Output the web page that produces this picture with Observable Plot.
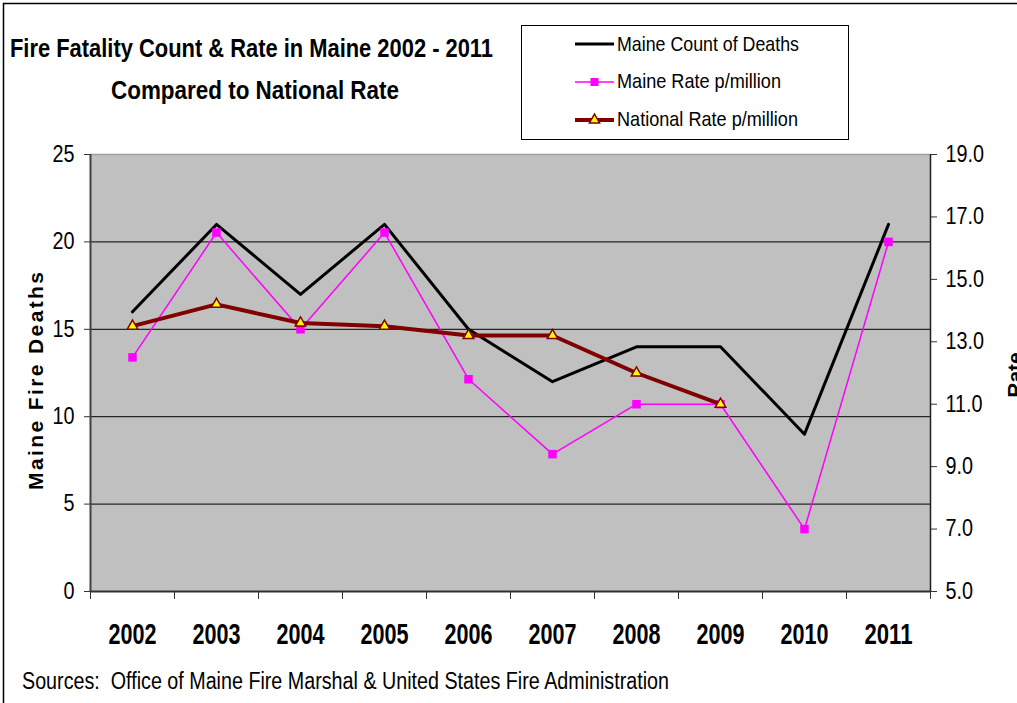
<!DOCTYPE html>
<html>
<head>
<meta charset="utf-8">
<script src="https://cdn.jsdelivr.net/npm/d3@7"></script>
<script src="https://cdn.jsdelivr.net/npm/@observablehq/plot@0.6"></script>
<style>
  html, body { margin: 0; padding: 0; background: #fff; }
  #chart { width: 1017px; height: 703px; overflow: hidden; }
</style>
</head>
<body>
<div id="chart"></div>
<script>
// ---- data ----
const years = [2002, 2003, 2004, 2005, 2006, 2007, 2008, 2009, 2010, 2011];
const deaths = [16, 21, 17, 21, 15, 12, 14, 14, 9, 21];
const maineRate = [12.5, 16.5, 13.4, 16.5, 11.8, 9.4, 11.0, 11.0, 7.0, 16.2];
const nationalRate = [13.5, 14.2, 13.6, 13.5, 13.2, 13.2, 12.0, 11.0, null, null];
const countTicks = [0, 5, 10, 15, 20, 25];
const gridTicks = [5, 10, 15, 20];
const rateTicks = [5, 7, 9, 11, 13, 15, 17, 19];
const seriesNames = ["Maine Count of Deaths", "Maine Rate p/million", "National Rate p/million"];
const titleLines = ["Fire Fatality Count & Rate in Maine 2002 - 2011", "Compared to National Rate"];
const leftTitle = "Maine Fire Deaths";
const rightTitle = "Rate";
const caption = "Sources:  Office of Maine Fire Marshal & United States Fire Administration";

// rate axis (5..19) mapped onto the count axis (0..25)
const rateToY = r => r == null ? null : (r - 5) * 25 / 14;
const yToRate = y => y * 14 / 25 + 5;

const rows = years.map((yr, i) => ({
  year: yr,
  deaths: deaths[i],
  maine: rateToY(maineRate[i]),
  national: rateToY(nationalRate[i])
}));
const boundaries = d3.range(years.length + 1).map(i => years[0] - 0.5 + i);
const FONT = '"Liberation Sans Narrow", "Arial Narrow", "Liberation Sans", Arial, sans-serif';

const plot = Plot.plot({
  width: 1017,
  height: 703,
  marginLeft: 90,
  marginRight: 87,
  marginTop: 154,
  marginBottom: 112,
  x: { domain: [years[0] - 0.5, years[years.length - 1] + 0.5], axis: null },
  y: { domain: [0, 25], axis: null },
  style: { fontFamily: FONT, color: "#000", background: "transparent" },
  marks: [
    Plot.frame({ fill: "#C0C0C0", stroke: null }),
    Plot.ruleY([25], { stroke: "#a0a0a0", strokeWidth: 1.5 }),
    Plot.ruleY(gridTicks, { stroke: "#000", strokeWidth: 1 }),
    // left axis
    Plot.axisY({ ticks: countTicks, tickSize: 6, tickPadding: 10, fontSize: 23, label: null, stroke: "#333" }),
    Plot.ruleX([years[0] - 0.5], { stroke: "#404040", strokeWidth: 2 }),
    // right axis
    Plot.axisY({ anchor: "right", ticks: rateTicks.map(rateToY), tickFormat: d => yToRate(d).toFixed(1), tickSize: 6, tickPadding: 9, fontSize: 23, label: null, stroke: "#333" }),
    Plot.ruleX([years[years.length - 1] + 0.5], { stroke: "#202020", strokeWidth: 1.5 }),
    // bottom axis
    Plot.ruleY([0], { stroke: "#303030", strokeWidth: 2 }),
    Plot.axisX({ ticks: boundaries, tickFormat: () => "", tickSize: 8, label: null, stroke: "#333" }),
    Plot.axisX({ ticks: years, tickFormat: d => String(d), tickSize: 0, tickPadding: 32, fontSize: 29, fontWeight: "bold", label: null }),
    // series
    Plot.line(rows, { x: "year", y: "deaths", stroke: "#000", strokeWidth: 3 }),
    Plot.line(rows, { x: "year", y: "maine", stroke: "#FF00FF", strokeWidth: 1.5 }),
    Plot.dot(rows, { x: "year", y: "maine", symbol: "square", r: 4.8, fill: "#FF00FF", stroke: "none" }),
    Plot.line(rows, { x: "year", y: "national", stroke: "#800000", strokeWidth: 4 }),
    Plot.dot(rows, { x: "year", y: "national", symbol: "triangle", r: 3.9, fill: "#FFFF00", stroke: "#800000", strokeWidth: 1.5 })
  ]
});
document.getElementById("chart").appendChild(plot);

const svg = d3.select(plot);
// condense axis tick labels to the narrow look of the reference
svg.selectAll('g[aria-label="x-axis tick label"] text').each(function () {
  if (this.textContent) d3.select(this).attr("textLength", 48).attr("lengthAdjust", "spacingAndGlyphs");
});
svg.selectAll('g[aria-label="y-axis tick label"] text').each(function () {
  const w = this.getComputedTextLength();
  if (w > 0) d3.select(this).attr("textLength", w * 0.86).attr("lengthAdjust", "spacingAndGlyphs");
});

// ---- annotations: title, axis titles, legend, caption, border ----
const g = svg.append("g").attr("text-anchor", "start");

g.append("path").attr("d", "M3.5,703 V3.5 H1017").attr("fill", "none").attr("stroke", "#000").attr("stroke-width", 1.5);

function txt(s, x, y, size, weight, len, adjust) {
  const t = g.append("text").attr("x", x).attr("y", y).attr("font-size", size)
    .attr("text-anchor", "start")
    .attr("font-weight", weight).attr("font-family", FONT).attr("fill", "#000").text(s);
  if (len) t.attr("textLength", len).attr("lengthAdjust", adjust || "spacingAndGlyphs");
  return t;
}
txt(titleLines[0], 10, 57, 25, "bold", 483);
txt(titleLines[1], 111, 99, 25, "bold", 288);
txt(caption, 22, 689, 23, "normal", 647);

g.append("text").attr("transform", "translate(43,381) rotate(-90)").attr("text-anchor", "middle")
  .attr("font-size", 21).attr("font-weight", "bold").attr("font-family", FONT)
  .attr("textLength", 218).attr("lengthAdjust", "spacing").text(leftTitle);
g.append("text").attr("transform", "translate(1022,375) rotate(-90)").attr("text-anchor", "middle")
  .attr("font-size", 21).attr("font-weight", "bold").attr("font-family", FONT).text(rightTitle);

// legend
g.append("rect").attr("x", 521.5).attr("y", 25.5).attr("width", 327).attr("height", 114)
  .attr("fill", "#fff").attr("stroke", "#000").attr("stroke-width", 1);
const legY = [44, 82, 120];
const legBase = [50.5, 88, 125.5];
const legLen = [182, 164, 181];
g.append("line").attr("x1", 575).attr("x2", 614).attr("y1", legY[0]).attr("y2", legY[0]).attr("stroke", "#000").attr("stroke-width", 3);
g.append("line").attr("x1", 575).attr("x2", 614).attr("y1", legY[1]).attr("y2", legY[1]).attr("stroke", "#FF00FF").attr("stroke-width", 1.5);
g.append("rect").attr("x", 590.5).attr("y", legY[1] - 4).attr("width", 8).attr("height", 8).attr("fill", "#FF00FF");
g.append("line").attr("x1", 575).attr("x2", 614).attr("y1", legY[2]).attr("y2", legY[2]).attr("stroke", "#800000").attr("stroke-width", 4);
g.append("path").attr("transform", `translate(594.5,${legY[2]})`).attr("d", d3.symbol(d3.symbolTriangle, 45)())
  .attr("fill", "#FFFF00").attr("stroke", "#800000").attr("stroke-width", 1.5);
seriesNames.forEach((s, i) => txt(s, 617, legBase[i], 21, "normal", legLen[i]));
</script>
</body>
</html>
